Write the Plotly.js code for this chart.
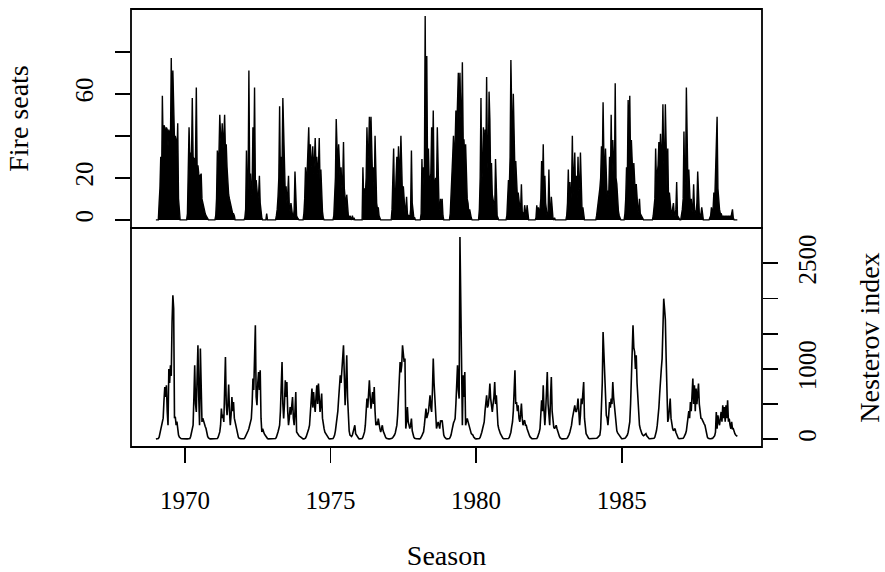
<!DOCTYPE html>
<html>
<head>
<meta charset="utf-8">
<script src="https://cdn.plot.ly/plotly-3.0.1.min.js"></script>
<style>html,body{margin:0;padding:0;background:#fff;}#chart{width:885px;height:572px;}</style>
</head>
<body>
<div id="chart"></div>
<script>
// Regular time series: start 1969, 36 observations per season-year
var startYear = 1969;
var frequency = 36;

// Fire seats (top panel), one row of 36 values per year 1969..1988
var fireSeats = [].concat(
  [0,0,0,0,8,15,30,16,59,35,45,44,38,44,43,35,43,40,38,77,40,71,52,38,40,38,30,46,10,2,0,0,0,0,0,0], // 1969
  [0,0,0,3,20,44,30,32,28,58,30,29,28,30,63,24,26,22,20,21,22,10,8,6,5,3,2,1,0,0,0,0,0,0,0,0],       // 1970
  [0,0,2,10,33,28,32,50,40,35,46,34,40,50,33,36,25,15,12,10,8,6,5,3,3,2,0,0,0,0,0,0,0,0,0,0],        // 1971
  [0,0,1,5,33,10,15,71,20,22,12,15,44,25,63,18,19,12,10,12,21,8,3,1,0,0,0,0,0,3,0,0,0,0,0,0],        // 1972
  [0,0,0,0,0,2,5,11,20,54,18,30,25,58,38,15,12,16,8,12,21,6,4,8,3,2,1,5,23,5,2,1,0,0,0,0],           // 1973
  [0,0,0,3,10,25,18,22,30,44,25,36,28,25,35,22,28,39,25,30,22,25,39,18,24,10,4,1,0,0,0,0,0,0,0,0],   // 1974
  [0,0,0,0,2,10,20,48,28,22,36,22,18,25,15,18,37,15,8,6,12,3,2,1,2,1,0,2,0,1,0,0,0,0,0,0],           // 1975
  [0,0,0,0,25,10,15,12,20,44,28,32,49,32,49,22,18,25,12,40,12,8,5,6,2,1,0,0,0,0,0,0,0,0,0,0],        // 1976
  [0,0,0,0,5,15,34,10,8,20,30,18,35,22,25,40,14,10,16,6,4,5,11,3,2,2,1,5,33,8,3,1,1,0,0,0],          // 1977
  [0,0,0,0,3,29,12,25,20,97,30,78,22,34,18,19,22,44,25,52,16,17,20,15,44,12,8,5,10,3,10,2,0,0,0,0],  // 1978
  [0,0,0,0,3,10,20,30,40,28,36,52,42,55,70,48,70,50,45,75,38,38,28,36,15,10,8,3,5,2,1,0,0,0,0,0],    // 1979
  [0,0,0,0,5,20,58,18,25,44,24,43,28,68,30,22,61,48,18,27,12,9,7,5,29,4,2,1,0,0,0,0,0,0,0,0],        // 1980
  [0,0,2,8,19,15,30,76,40,28,60,30,22,28,15,11,13,8,6,5,17,4,3,2,7,2,1,7,1,0,0,0,0,0,0,0],           // 1981
  [0,0,1,7,2,6,3,5,10,28,15,36,12,21,8,4,1,3,24,5,3,11,2,1,0,1,0,0,0,0,0,0,0,0,0,0],                 // 1982
  [0,0,0,0,2,8,24,6,18,8,15,40,12,20,32,12,21,10,30,14,16,32,8,4,6,1,0,0,0,0,0,0,0,0,0,0],           // 1983
  [0,0,0,0,0,2,5,8,13,15,20,35,25,56,30,20,34,15,10,14,12,30,16,50,22,38,25,18,65,20,17,8,4,2,1,0],  // 1984
  [0,0,0,0,3,10,25,20,57,30,59,28,38,22,18,27,14,11,17,8,5,4,10,3,2,1,0,0,0,0,0,0,0,0,0,0],          // 1985
  [0,0,0,2,5,10,34,18,22,26,37,24,41,28,32,55,28,24,55,22,16,34,8,13,5,4,3,5,8,3,2,5,18,2,1,0],      // 1986
  [0,0,2,5,10,42,15,20,63,25,15,24,8,5,10,4,6,17,5,3,4,8,23,5,3,2,3,6,1,0,0,0,0,0,0,0],              // 1987
  [0,1,2,6,3,5,13,8,20,36,49,15,8,5,3,3,2,1,2,1,2,1,2,1,2,1,2,1,3,5,1,0,0,0,0,0]                     // 1988
);

// Nesterov index (bottom panel), one row of 36 values per year 1969..1988
var nesterov = [].concat(
  [5,5,8,12,30,80,120,180,240,300,550,743,600,767,400,200,1000,800,1051,900,1667,2045,1856,300,320,200,250,120,60,30,15,10,8,6,5,5],
  [5,5,5,5,5,5,10,40,104,150,199,600,1051,500,388,900,1335,600,199,1288,800,246,300,246,200,180,152,80,40,20,10,5,5,5,5,5],
  [5,5,5,5,10,30,60,104,200,436,300,350,246,700,1170,500,341,500,777,400,199,350,601,400,530,300,246,150,100,60,30,15,8,8,8,8],
  [8,8,20,40,80,100,120,152,200,250,294,500,862,700,1200,1619,600,483,800,956,700,980,300,104,150,100,80,60,40,20,10,5,5,5,5,5],
  [5,5,5,5,10,30,60,104,150,199,400,700,1098,500,294,500,838,600,814,400,199,300,459,350,500,601,300,199,400,672,104,80,60,50,40,30],
  [20,10,5,5,5,15,40,70,104,150,199,400,550,720,450,672,500,388,600,767,500,791,600,388,500,649,300,199,150,100,80,60,40,20,10,5],
  [5,5,5,10,30,60,120,199,250,400,578,700,909,800,1051,1200,1335,900,483,800,1193,600,199,120,60,50,40,60,100,150,199,80,60,30,15,8],
  [5,5,5,10,30,60,104,200,350,578,450,600,838,600,436,550,672,500,743,400,199,250,200,294,200,150,104,150,199,120,80,60,30,15,8,8],
  [5,5,5,8,15,25,40,60,90,130,200,350,578,900,1098,950,1051,1335,1200,1098,1146,152,250,459,250,200,152,200,294,120,60,30,15,8,8,8],
  [5,5,5,10,25,50,80,104,200,300,436,300,350,388,500,625,450,388,700,1146,800,601,300,152,200,246,200,152,270,246,270,104,60,30,15,8],
  [5,5,5,10,30,60,120,199,230,260,294,500,800,1051,700,578,2874,2117,1000,199,909,600,956,199,250,294,250,199,150,100,80,70,60,30,15,8],
  [5,5,5,5,10,25,50,100,150,200,246,400,500,625,450,483,600,791,578,500,388,500,600,814,500,625,300,199,150,104,80,60,30,15,8,8],
  [5,5,5,5,10,25,50,100,180,246,400,600,980,500,530,400,483,300,246,350,507,300,199,250,270,200,199,150,104,80,50,30,15,8,8,8],
  [5,5,5,10,30,60,100,152,300,554,400,767,400,199,400,700,956,500,300,199,600,885,400,199,170,152,170,199,150,104,70,40,20,10,5,5],
  [5,5,5,5,10,20,40,70,104,150,200,294,350,400,483,400,388,450,578,400,199,350,578,500,650,814,300,152,80,60,30,15,8,8,8,8],
  [5,5,5,5,10,15,20,30,45,60,150,388,800,1525,1200,720,500,341,300,199,350,530,450,578,500,814,600,483,300,152,120,90,70,60,30,15],
  [8,8,8,8,15,25,40,60,100,170,246,500,862,1200,1619,1300,1241,1000,1193,800,530,300,199,150,100,80,60,50,60,70,80,50,30,15,8,8],
  [8,8,8,8,15,30,60,120,200,294,450,650,909,1000,1146,1500,1998,1856,1700,1146,600,246,300,450,578,300,200,152,120,150,152,100,60,30,15,8],
  [8,8,8,8,15,30,50,80,120,200,294,400,300,530,400,600,862,500,767,400,720,500,600,791,500,388,300,294,260,246,220,199,120,60,30,15],
  [8,8,8,8,12,20,30,50,100,388,150,341,250,199,300,388,250,483,300,459,250,483,300,554,250,294,200,150,246,150,152,100,80,60,50,40]
);

// Tick labels
var yearTicks = [1970, 1975, 1980, 1985];
var fireTicks = [0, 20, 40, 60, 80];
var fireTickText = ["0", "20", "", "60", ""];
var nestTicks = [0, 500, 1000, 1500, 2000, 2500];
var nestTickText = ["0", "", "1000", "", "", "2500"];

function timeAxis(n) {
  var t = [];
  for (var i = 0; i < n; i++) t.push(startYear + i / frequency);
  return t;
}

var font = "Liberation Serif, Times New Roman, serif";
var fs = 25;
var tfs = 28;

var traces = [
  {
    x: timeAxis(fireSeats.length), y: fireSeats,
    type: "scatter", mode: "lines", xaxis: "x", yaxis: "y2",
    line: {color: "#000", width: 1.4},
    fill: "tozeroy", fillcolor: "#000",
    hoverinfo: "x+y", showlegend: false
  },
  {
    x: timeAxis(nesterov.length), y: nesterov,
    type: "scatter", mode: "lines", xaxis: "x", yaxis: "y",
    line: {color: "#000", width: 1.6},
    hoverinfo: "x+y", showlegend: false
  }
];

var layout = {
  width: 885, height: 572,
  margin: {l: 131, r: 123, t: 9, b: 125},
  paper_bgcolor: "#fff", plot_bgcolor: "#fff",
  font: {family: font, size: fs, color: "#000"},
  showlegend: false,
  xaxis: {
    anchor: "y", range: [1968.145, 1989.82],
    tickvals: yearTicks, ticktext: yearTicks.map(String),
    ticks: "outside", ticklen: 15, tickwidth: 1.8, tickcolor: "#000",
    ticklabelstandoff: 16,
    showgrid: false, zeroline: false, showline: false,
    tickfont: {family: font, size: fs, color: "#000"},
    title: {text: "Season", font: {family: font, size: tfs, color: "#000"}, standoff: 32}
  },
  yaxis: {
    domain: [0, 0.5], anchor: "x", side: "right",
    range: [-110, 3002],
    tickvals: nestTicks, ticktext: nestTickText,
    ticks: "outside", ticklen: 15, tickwidth: 1.8, tickcolor: "#000",
    tickangle: -90, ticklabelstandoff: 8,
    showgrid: false, zeroline: false, showline: false,
    tickfont: {family: font, size: fs, color: "#000"},
    title: {text: "Nesterov index", font: {family: font, size: tfs, color: "#000"}, standoff: 42}
  },
  yaxis2: {
    domain: [0.5, 1], anchor: "x", side: "left",
    range: [-3.85, 100.3],
    tickvals: fireTicks, ticktext: fireTickText,
    ticks: "outside", ticklen: 15, tickwidth: 1.8, tickcolor: "#000",
    tickangle: -90, ticklabelstandoff: 12,
    showgrid: false, zeroline: false, showline: false,
    tickfont: {family: font, size: fs, color: "#000"},
    title: {text: "Fire seats", font: {family: font, size: tfs, color: "#000"}, standoff: 34}
  },
  shapes: [
    {type: "rect", xref: "paper", yref: "paper", x0: 0, x1: 1, y0: 0, y1: 0.5,
     line: {color: "#000", width: 1.8}, fillcolor: "rgba(0,0,0,0)", layer: "above"},
    {type: "rect", xref: "paper", yref: "paper", x0: 0, x1: 1, y0: 0.5, y1: 1,
     line: {color: "#000", width: 1.8}, fillcolor: "rgba(0,0,0,0)", layer: "above"}
  ]
};

Plotly.newPlot("chart", traces, layout, {staticPlot: true, displayModeBar: false});
</script>
</body>
</html>
